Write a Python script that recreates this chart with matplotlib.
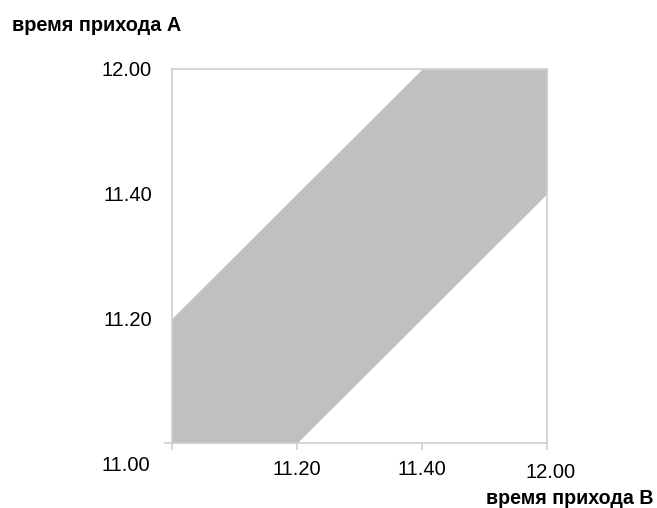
import matplotlib
matplotlib.use("Agg")
import matplotlib.pyplot as plt
from matplotlib.transforms import ScaledTranslation

plt.rcParams['font.family'] = ['Liberation Sans', 'DejaVu Sans']

# minutes after 11.00
minutes = [0, 20, 40, 60]
band_low = [0, 0, 20, 40]
band_high = [20, 40, 60, 60]
tick_labels = ["11.20", "11.40", "12.00"]
origin_label = "11.00"
label_a = "время прихода А"
label_b = "время прихода В"

fig = plt.figure(figsize=(6.57, 5.08), dpi=100)
ax = fig.add_axes([172 / 657, 65 / 508, 375 / 657, 374 / 508])

ax.fill_between(minutes, band_low, band_high, color="#c0c0c0", linewidth=0)

ax.set_xlim(0, 60)
ax.set_ylim(0, 60)

for s in ax.spines.values():
    s.set_color("#cccccc")
    s.set_linewidth(1.1)

ax.set_xticks(minutes)
ax.set_xticklabels([""] + tick_labels)
ax.tick_params(axis="x", length=5, width=1.1, color="#cccccc", pad=7, labelsize=14.5)

ax.set_yticks(minutes[1:])
ax.set_yticklabels(tick_labels)
ax.tick_params(axis="y", length=0, pad=14.4, labelsize=14.5)
ax.set_yticks([0], minor=True)
ax.tick_params(axis="y", which="minor", length=6, width=1.1, color="#cccccc")

# last x label sits a little lower and to the right
last = ax.get_xticklabels()[-1]
last.set_transform(last.get_transform() + ScaledTranslation(0.04, -0.03, fig.dpi_scale_trans))

ax.annotate(origin_label, xy=(0, 0), xytext=(-16, -16), textcoords="offset points",
            ha="right", va="center", fontsize=14.5)

fig.text(12 / 657, (508 - 31) / 508, label_a, fontsize=14.3, fontweight="bold",
         ha="left", va="baseline")
fig.text(654 / 657, (508 - 504) / 508, label_b, fontsize=14.1, fontweight="bold",
         ha="right", va="baseline")

fig.savefig("out.png", dpi=100)
